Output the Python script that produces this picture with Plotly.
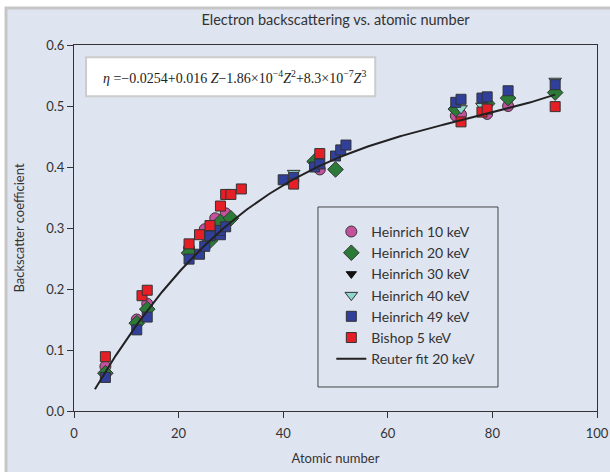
import numpy as np
import plotly.graph_objects as go

# ---- data -------------------------------------------------------------
h10_z = [6, 12, 14, 22, 25, 27, 29, 47, 73, 74, 79, 83]
h10_eta = [0.073, 0.150, 0.176, 0.267, 0.298, 0.316, 0.324, 0.396, 0.484, 0.486, 0.487, 0.500]

h20_z = [6, 12, 14, 22, 26, 28, 30, 46, 50, 73, 79, 83, 92]
h20_eta = [0.062, 0.144, 0.167, 0.259, 0.279, 0.310, 0.316, 0.409, 0.396, 0.495, 0.504, 0.513, 0.522]

h30_z = [6, 14, 22, 30, 46, 73, 79, 92]
h30_eta = [0.061, 0.166, 0.258, 0.315, 0.407, 0.494, 0.503, 0.521]

h40_z = [42, 74, 78, 92]
h40_eta = [0.390, 0.496, 0.500, 0.541]

h49_z = [6, 12, 14, 22, 24, 25, 26, 28, 28, 29, 40, 42, 46, 47, 50, 51, 52, 73, 74, 78, 79, 83, 92]
h49_eta = [0.055, 0.133, 0.154, 0.249, 0.257, 0.270, 0.287, 0.289, 0.296, 0.302, 0.379, 0.383,
           0.400, 0.405, 0.418, 0.428, 0.436, 0.506, 0.511, 0.513, 0.515, 0.525, 0.535]

bishop_z = [6, 13, 14, 22, 24, 26, 28, 29, 30, 32, 42, 47, 74, 78, 79, 92]
bishop_eta = [0.089, 0.189, 0.198, 0.274, 0.289, 0.304, 0.336, 0.355, 0.355, 0.364, 0.372, 0.422,
              0.474, 0.490, 0.495, 0.499]

# Reuter polynomial coefficients (constant, Z, Z^2, Z^3)
reuter_coef = [-0.0254, 0.016, -1.86e-4, 8.3e-7]
fit_z_range = [4, 92]

x_ticks = [0, 20, 40, 60, 80, 100]
y_ticks = [0.0, 0.1, 0.2, 0.3, 0.4, 0.5, 0.6]

# ---- styling ----------------------------------------------------------
FONT = "Lato"
PANEL = "#dfe4f1"
TEXT = "#333333"
OUTLINE = dict(color="#333333", width=1)

fit_z = np.linspace(fit_z_range[0], fit_z_range[1], 200)
fit_eta = sum(c * fit_z ** i for i, c in enumerate(reuter_coef))

fig = go.Figure()

# black triangles sit beneath the other Heinrich markers
fig.add_trace(go.Scatter(x=h30_z, y=h30_eta, mode="markers", name="Heinrich 30 keV",
                         legendrank=3,
                         marker=dict(symbol="triangle-down", size=9, color="#111111",
                                     line=dict(color="#111111", width=1))))
fig.add_trace(go.Scatter(x=h10_z, y=h10_eta, mode="markers", name="Heinrich 10 keV",
                         legendrank=1,
                         marker=dict(symbol="circle", size=11, color="#c4519c", line=OUTLINE)))
fig.add_trace(go.Scatter(x=h20_z, y=h20_eta, mode="markers", name="Heinrich 20 keV",
                         legendrank=2,
                         marker=dict(symbol="diamond", size=12, color="#2b7a38", line=OUTLINE)))
fig.add_trace(go.Scatter(x=h40_z, y=h40_eta, mode="markers", name="Heinrich 40 keV",
                         legendrank=4,
                         marker=dict(symbol="triangle-down", size=11, color="#8fd6cb", line=OUTLINE)))
fig.add_trace(go.Scatter(x=h49_z, y=h49_eta, mode="markers", name="Heinrich 49 keV",
                         legendrank=5,
                         marker=dict(symbol="square", size=10, color="#2f3f9a", line=OUTLINE)))
fig.add_trace(go.Scatter(x=bishop_z, y=bishop_eta, mode="markers", name="Bishop 5 keV",
                         legendrank=6,
                         marker=dict(symbol="square", size=10, color="#e61e26", line=OUTLINE)))
fig.add_trace(go.Scatter(x=fit_z, y=fit_eta, mode="lines", name="Reuter fit 20 keV",
                         legendrank=7, line=dict(color="#222222", width=2)))

formula = ("<i>η</i> =−0.0254+0.016 <i>Z</i>−1.86×10<sup>−4</sup><i>Z</i><sup>2</sup>"
           "+8.3×10<sup>−7</sup><i>Z</i><sup>3</sup>")

fig.update_layout(
    width=610, height=472,
    margin=dict(l=74, r=13, t=45, b=61, autoexpand=False),
    paper_bgcolor="white",
    plot_bgcolor="rgba(0,0,0,0)",
    font=dict(family=FONT, size=13, color=TEXT),
    title=dict(text="Electron backscattering vs. atomic number", x=0.55, xanchor="center",
               y=0.958, yanchor="middle", font=dict(family=FONT, size=14.5, color=TEXT)),
    showlegend=True,
    legend=dict(x=0.492, y=0.533, xanchor="left", yanchor="top",
                bgcolor="rgba(0,0,0,0)", borderwidth=0, itemsizing="trace",
                font=dict(family=FONT, size=14, color=TEXT),
                traceorder="normal"),
    shapes=[
        # light panel behind the whole chart
        dict(type="rect", xref="paper", yref="paper", x0=-0.13, x1=1.1, y0=-0.2, y1=1.101,
             fillcolor=PANEL, line=dict(color="#c6c6c6", width=3), layer="below"),
        # white box holding the fit equation
        dict(type="rect", xref="x", yref="y", x0=2.3, x1=57.6, y0=0.516, y1=0.580,
             fillcolor="white", line=dict(color="#cccccc", width=2), layer="below"),
        # frame around the legend
        dict(type="rect", xref="paper", yref="paper", x0=0.4665, x1=0.8107, y0=0.0656, y1=0.5574,
             fillcolor="rgba(0,0,0,0)", line=dict(color="#444444", width=1), layer="below"),
    ],
    annotations=[
        dict(text=formula, x=30.6, y=0.548, xref="x", yref="y", showarrow=False,
             font=dict(family="Liberation Serif", size=14, color="#222222")),
    ],
)

axis_common = dict(showline=True, linecolor="#333333", linewidth=1.2, mirror=True,
                   ticks="outside", ticklen=6, tickcolor="#333333", tickwidth=1,
                   showgrid=False, zeroline=False, automargin=False,
                   tickfont=dict(family=FONT, size=13, color=TEXT))

fig.update_xaxes(range=[0, 100], tickvals=x_ticks, ticktext=[str(v) for v in x_ticks],
                 ticklabelstandoff=4,
                 title=dict(text="Atomic number", standoff=14,
                            font=dict(family=FONT, size=13, color=TEXT)),
                 **axis_common)
fig.update_yaxes(range=[0, 0.6], tickvals=y_ticks, ticktext=[f"{v:.1f}" for v in y_ticks],
                 title=dict(text="Backscatter coefficient", standoff=18,
                            font=dict(family=FONT, size=13, color=TEXT)),
                 **axis_common)

fig.write_html("out.html")
